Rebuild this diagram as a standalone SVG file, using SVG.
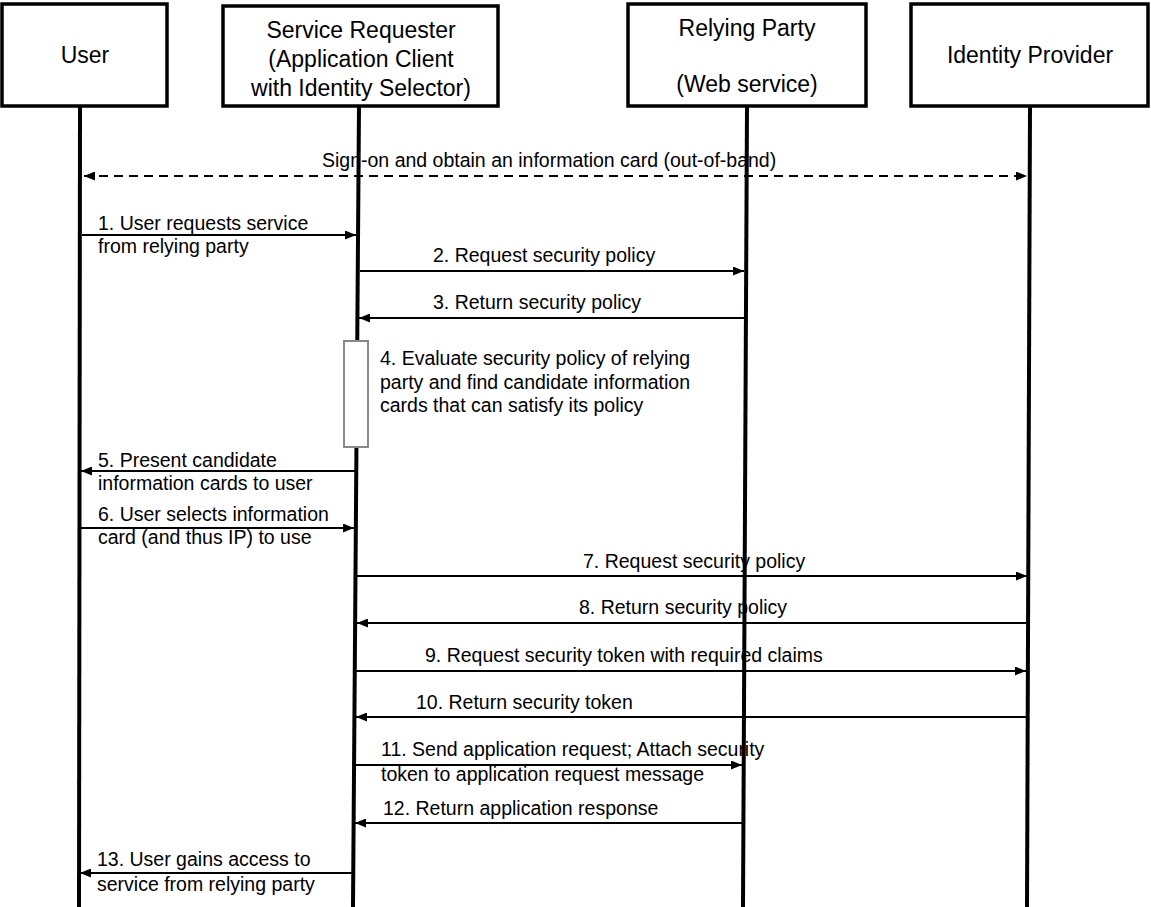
<svg xmlns="http://www.w3.org/2000/svg" width="1151" height="907" viewBox="0 0 1151 907">
<style>
.box{fill:#fff;stroke:#000;stroke-width:3.5}
.life{stroke:#000;stroke-width:4;fill:none}
.msg{stroke:#000;stroke-width:2;fill:none}
.dash{stroke:#000;stroke-width:2;fill:none;stroke-dasharray:9,6}
.h{font-family:"Liberation Sans",Arial,sans-serif;font-size:23px;fill:#000;text-anchor:middle}
.t{font-family:"Liberation Sans",Arial,sans-serif;font-size:19.5px;fill:#000}
.act{fill:#fff;stroke:#888;stroke-width:2}
</style>
<defs>
<marker id="ah" viewBox="0 0 11 9" refX="11" refY="4.5" markerWidth="11" markerHeight="9" markerUnits="userSpaceOnUse" orient="auto-start-reverse">
<path d="M0,0 L11,4.5 L0,9 z" fill="#000"/>
</marker>
</defs>
<rect width="1151" height="907" fill="#fff"/>
<g id="user">
<rect class="box" x="2" y="4" width="165" height="102"/>
<text class="h" x="85" y="63">User</text>
<line class="life" x1="80" y1="106" x2="79" y2="907"/>
</g>
<g id="service-requester">
<rect class="box" x="223" y="6" width="275" height="100"/>
<text class="h" x="361" y="38">Service Requester</text>
<text class="h" x="361" y="67">(Application Client</text>
<text class="h" x="361" y="96">with Identity Selector)</text>
<line class="life" x1="359" y1="106" x2="353" y2="907"/>
<rect class="act" x="344" y="341" width="24" height="106"/>
<text class="t" x="380" y="365">4. Evaluate security policy of relying</text>
<text class="t" x="380" y="389">party and find candidate information</text>
<text class="t" x="380" y="412">cards that can satisfy its policy</text>
</g>
<g id="relying-party">
<rect class="box" x="628" y="4" width="238" height="102"/>
<text class="h" x="747" y="36">Relying Party</text>
<text class="h" x="747" y="92">(Web service)</text>
<line class="life" x1="747" y1="106" x2="743" y2="907"/>
</g>
<g id="identity-provider">
<rect class="box" x="911" y="4" width="237" height="102"/>
<text class="h" x="1030" y="63">Identity Provider</text>
<line class="life" x1="1030" y1="106" x2="1027" y2="907"/>
</g>
<g id="connectors">
<line class="dash" x1="84" y1="176" x2="1027" y2="176" marker-start="url(#ah)" marker-end="url(#ah)"/>
<text class="t" x="322" y="167">Sign-on and obtain an information card (out-of-band)</text>

<line class="msg" x1="82" y1="235" x2="356" y2="235" marker-end="url(#ah)"/>
<text class="t" x="98" y="230">1. User requests service</text>
<text class="t" x="98" y="253">from relying party</text>

<line class="msg" x1="360" y1="271" x2="744" y2="271" marker-end="url(#ah)"/>
<text class="t" x="433" y="262">2. Request security policy</text>

<line class="msg" x1="745" y1="318" x2="359" y2="318" marker-end="url(#ah)"/>
<text class="t" x="433" y="309">3. Return security policy</text>

<line class="msg" x1="355" y1="471" x2="81" y2="471" marker-end="url(#ah)"/>
<text class="t" x="98" y="467">5. Present candidate</text>
<text class="t" x="98" y="490">information cards to user</text>

<line class="msg" x1="81" y1="528" x2="354" y2="528" marker-end="url(#ah)"/>
<text class="t" x="98" y="521">6. User selects information</text>
<text class="t" x="98" y="544">card (and thus IP) to use</text>

<line class="msg" x1="356" y1="576" x2="1027" y2="576" marker-end="url(#ah)"/>
<text class="t" x="583" y="568">7. Request security policy</text>

<line class="msg" x1="1028" y1="623" x2="357" y2="623" marker-end="url(#ah)"/>
<text class="t" x="579" y="614">8. Return security policy</text>

<line class="msg" x1="355" y1="671" x2="1026" y2="671" marker-end="url(#ah)"/>
<text class="t" x="425" y="662">9. Request security token with required claims</text>

<line class="msg" x1="1028" y1="717" x2="356" y2="717" marker-end="url(#ah)"/>
<text class="t" x="416" y="709">10. Return security token</text>

<line class="msg" x1="355" y1="765" x2="742" y2="765" marker-end="url(#ah)"/>
<text class="t" x="381" y="756">11. Send application request; Attach security</text>
<text class="t" x="381" y="781">token to application request message</text>

<line class="msg" x1="743" y1="823" x2="355" y2="823" marker-end="url(#ah)"/>
<text class="t" x="383" y="815">12. Return application response</text>

<line class="msg" x1="353" y1="873" x2="80" y2="873" marker-end="url(#ah)"/>
<text class="t" x="97" y="866">13. User gains access to</text>
<text class="t" x="97" y="891">service from relying party</text>
</g>
</svg>
